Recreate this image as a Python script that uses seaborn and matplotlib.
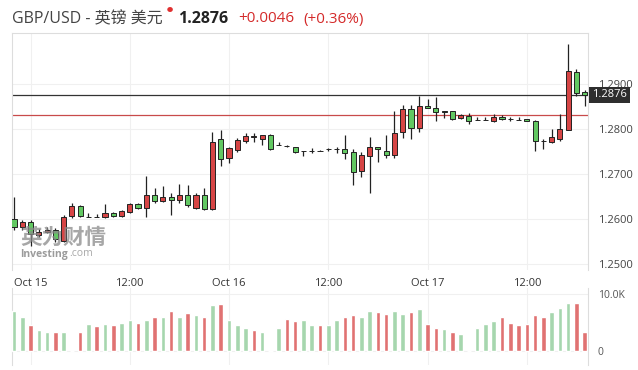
import numpy as np
import pandas as pd
import matplotlib
matplotlib.use("Agg")
import matplotlib.pyplot as plt
import matplotlib.transforms as mtransforms
import seaborn as sns

# hourly candles, 22:00 Oct 14 -> 19:00 Oct 17
opens = [1.2599, 1.2583, 1.2593, 1.2565, 1.2571, 1.2576, 1.2552, 1.2607, 1.2629, 1.2604,
         1.2604, 1.2604, 1.2613, 1.2607, 1.2615, 1.2633, 1.2625, 1.2653, 1.2641, 1.2650,
         1.2642, 1.2653, 1.2624, 1.2653, 1.2622, 1.2777, 1.2735, 1.2753, 1.2774, 1.2782,
         1.2777, 1.2787, 1.2764, 1.2762, 1.2759, 1.2752, 1.2752, 1.2752, 1.2755, 1.2755,
         1.2755, 1.2748, 1.2706, 1.2740, 1.2759, 1.2752, 1.2742, 1.2793, 1.2844, 1.2802,
         1.2851, 1.2846, 1.2839, 1.2839, 1.2824, 1.2829, 1.2820, 1.2820, 1.2817, 1.2826,
         1.2822, 1.2820, 1.2822, 1.2817, 1.2774, 1.2771, 1.2778, 1.2798, 1.2927, 1.2882]
highs = [1.2650, 1.2598, 1.2598, 1.2577, 1.2582, 1.2579, 1.2609, 1.2635, 1.2631, 1.2613,
         1.2611, 1.2633, 1.2616, 1.2620, 1.2636, 1.2636, 1.2696, 1.2670, 1.2673, 1.2657,
         1.2678, 1.2676, 1.2657, 1.2668, 1.2793, 1.2798, 1.2761, 1.2779, 1.2790, 1.2792,
         1.2787, 1.2789, 1.2772, 1.2765, 1.2761, 1.2752, 1.2758, 1.2753, 1.2758, 1.2759,
         1.2787, 1.2755, 1.2750, 1.2782, 1.2759, 1.2787, 1.2841, 1.2853, 1.2853, 1.2873,
         1.2866, 1.2872, 1.2839, 1.2841, 1.2833, 1.2836, 1.2826, 1.2826, 1.2833, 1.2830,
         1.2827, 1.2826, 1.2822, 1.2820, 1.2778, 1.2799, 1.2833, 1.2989, 1.2933, 1.2887]
lows = [1.2576, 1.2576, 1.2540, 1.2561, 1.2568, 1.2550, 1.2550, 1.2602, 1.2605, 1.2604,
        1.2604, 1.2603, 1.2604, 1.2605, 1.2613, 1.2622, 1.2605, 1.2636, 1.2638, 1.2608,
        1.2635, 1.2627, 1.2623, 1.2620, 1.2620, 1.2718, 1.2724, 1.2750, 1.2768, 1.2772,
        1.2764, 1.2753, 1.2764, 1.2760, 1.2747, 1.2740, 1.2747, 1.2751, 1.2752, 1.2746,
        1.2733, 1.2676, 1.2694, 1.2657, 1.2727, 1.2735, 1.2735, 1.2779, 1.2777, 1.2794,
        1.2846, 1.2818, 1.2824, 1.2820, 1.2823, 1.2810, 1.2820, 1.2820, 1.2816, 1.2820,
        1.2817, 1.2820, 1.2817, 1.2752, 1.2755, 1.2768, 1.2774, 1.2798, 1.2873, 1.2850]
closes = [1.2583, 1.2594, 1.2566, 1.2571, 1.2576, 1.2556, 1.2605, 1.2629, 1.2607, 1.2605,
          1.2605, 1.2613, 1.2607, 1.2617, 1.2633, 1.2624, 1.2653, 1.2641, 1.2648, 1.2643,
          1.2653, 1.2631, 1.2654, 1.2622, 1.2770, 1.2733, 1.2757, 1.2776, 1.2785, 1.2784,
          1.2787, 1.2756, 1.2764, 1.2763, 1.2748, 1.2752, 1.2752, 1.2752, 1.2756, 1.2755,
          1.2746, 1.2704, 1.2742, 1.2761, 1.2755, 1.2742, 1.2790, 1.2844, 1.2802, 1.2851,
          1.2846, 1.2837, 1.2838, 1.2822, 1.2830, 1.2818, 1.2820, 1.2820, 1.2827, 1.2822,
          1.2822, 1.2820, 1.2817, 1.2773, 1.2774, 1.2783, 1.2799, 1.2929, 1.2881, 1.2876]

# volume in thousands, and its bar colour
volumes = [7.1, 5.9, 4.6, 3.7, 3.3, 3.3, 3.3, 0.0, 3.3, 4.8,
           4.3, 4.8, 4.5, 5.0, 5.4, 5.0, 5.5, 5.9, 6.0, 7.0,
           6.0, 6.6, 6.3, 6.0, 8.0, 8.2, 5.5, 4.6, 4.1, 3.7,
           3.4, 0.0, 4.1, 5.7, 5.2, 5.4, 4.5, 4.6, 4.6, 5.5,
           6.0, 6.4, 6.0, 7.1, 6.8, 6.5, 7.1, 6.5, 6.8, 7.4,
           4.8, 4.1, 3.9, 3.4, 2.9, 0.0, 4.1, 4.7, 5.3, 6.0,
           5.0, 4.5, 4.8, 6.4, 6.0, 6.9, 7.6, 8.5, 8.5, 3.3]
vol_dir = list("GGRGGRG-RGRGRGGRGRGRGRGRGRGGGRG-GRRGGRGGRRGGRRGGRGRRGRG-GGGRRRRRRGGGRR")

tick_pos = [2, 14, 26, 38, 50, 62]
tick_labels = ["Oct 15", "12:00", "Oct 16", "12:00", "Oct 17", "12:00"]
price_ticks = [1.25, 1.26, 1.27, 1.28, 1.29]

last_price = 1.2876
prev_close = 1.2830

RED = "#d64545"
GREEN = "#62c862"
VRED = "#e07272"
VGREEN = "#a6d6ae"

sns.set_theme(style="white")
plt.rcParams["font.family"] = ["Open Sans", "Noto Sans CJK SC", "DejaVu Sans"]

W, H = 638, 370
fig = plt.figure(figsize=(W / 100, H / 100), dpi=100)

def frame(l, t, r, b):
    return [l / W, 1 - b / H, (r - l) / W, (b - t) / H]

ax = fig.add_axes(frame(12, 33, 588, 270))
axv = fig.add_axes(frame(12, 288, 588, 365))

df = pd.DataFrame({"idx": np.arange(len(opens)), "open": opens, "high": highs,
                   "low": lows, "close": closes})
df["up"] = df["close"] >= df["open"]

# wicks
ax.vlines(df["idx"], df["low"], df["high"], color="#222222", linewidth=0.9, zorder=2)
# bodies
bottom = np.minimum(df["open"], df["close"])
height = (df["close"] - df["open"]).abs()
colors = [RED if u else GREEN for u in df["up"]]
ax.bar(df["idx"], height, bottom=bottom, width=0.62, color=colors,
       edgecolor="#222222", linewidth=0.7, zorder=3)

ax.axhline(last_price, color="#333333", linewidth=0.9, zorder=1)
ax.axhline(prev_close, color="#c84a4a", linewidth=0.9, zorder=1)

ax.set_xlim(-0.24, 69.4)
ax.set_ylim(1.24867, 1.30133)
ax.set_xticks(tick_pos)
ax.set_xticklabels(tick_labels, fontsize=8, color="#333333")
ax.set_yticks(price_ticks)
ax.set_yticklabels([f"{p:.4f}" for p in price_ticks], fontsize=8, color="#444444")
ax.yaxis.tick_right()
ax.tick_params(axis="both", length=0)
ax.tick_params(axis="x", pad=6)
ax.tick_params(axis="y", pad=7)
ax.grid(True, color="#f0f0f0", linewidth=0.8)
ax.set_axisbelow(True)
for s in ["left", "right", "top"]:
    ax.spines[s].set_color("#dddddd")
    ax.spines[s].set_linewidth(0.8)
ax.spines["bottom"].set_visible(False)

trans = mtransforms.blended_transform_factory(ax.transAxes, ax.transData)
ax.text(1.007, last_price, f"{last_price:.4f}", transform=trans, ha="left", va="center",
        fontsize=8, color="white", zorder=5,
        bbox=dict(boxstyle="square,pad=0.25", fc="#2e2e2e", ec="none"))

# volume panel
vdf = pd.DataFrame({"idx": np.arange(len(volumes)), "volume": np.array(volumes) * 1000,
                    "dir": ["R" if d == "R" else "G" for d in vol_dir]})
sns.barplot(data=vdf, x="idx", y="volume", hue="dir", palette={"R": VRED, "G": VGREEN},
            native_scale=True, width=0.55, dodge=False, errorbar=None, legend=False,
            saturation=1, ax=axv, zorder=3)
axv.set_xlim(-0.24, 69.4)
axv.set_ylim(-2456, 11053)
axv.set_xticks(tick_pos)
axv.set_xticklabels([])
axv.set_yticks([0, 10000])
axv.set_yticklabels(["0", "10.0K"], fontsize=7.5, color="#555555")
axv.yaxis.tick_right()
axv.tick_params(axis="both", length=0, pad=7)
axv.set_xlabel("")
axv.set_ylabel("")
axv.grid(True, color="#f0f0f0", linewidth=0.8)
axv.set_axisbelow(True)
for s in ["top", "bottom"]:
    axv.spines[s].set_visible(False)
for s in ["left", "right"]:
    axv.spines[s].set_color("#dddddd")
    axv.spines[s].set_linewidth(0.8)

# header
fig.text(12 / W, 1 - 19 / H, "GBP/USD - 英镑 美元", fontsize=11.5, color="#444444",
         ha="left", va="center")
fig.text(167 / W, 1 - 11 / H, "●", fontsize=4.5, color="#e03030", ha="left", va="center")
fig.text(178 / W, 1 - 19 / H, "1.2876", fontsize=11.5, color="#222222",
         fontweight="bold", ha="left", va="center")
fig.text(238 / W, 1 - 19 / H, "+0.0046", fontsize=11, color="#d42a2a", ha="left", va="center")
fig.text(303 / W, 1 - 19 / H, "(+0.36%)", fontsize=11, color="#d42a2a", ha="left", va="center")

# watermark
fig.text(20 / W, 1 - 238 / H, "英为财情", fontsize=15.5, color="#8a8a8a", alpha=0.75,
         fontweight="bold", ha="left", va="center")
fig.text(20 / W, 1 - 254 / H, "Investing", fontsize=7.5, color="#8a8a8a", alpha=0.85,
         fontweight="bold", ha="left", va="center")
fig.text(69 / W, 1 - 254 / H, ".com", fontsize=7.5, color="#9a9a9a", alpha=0.85,
         ha="left", va="center")

fig.savefig("out.png", dpi=100)
